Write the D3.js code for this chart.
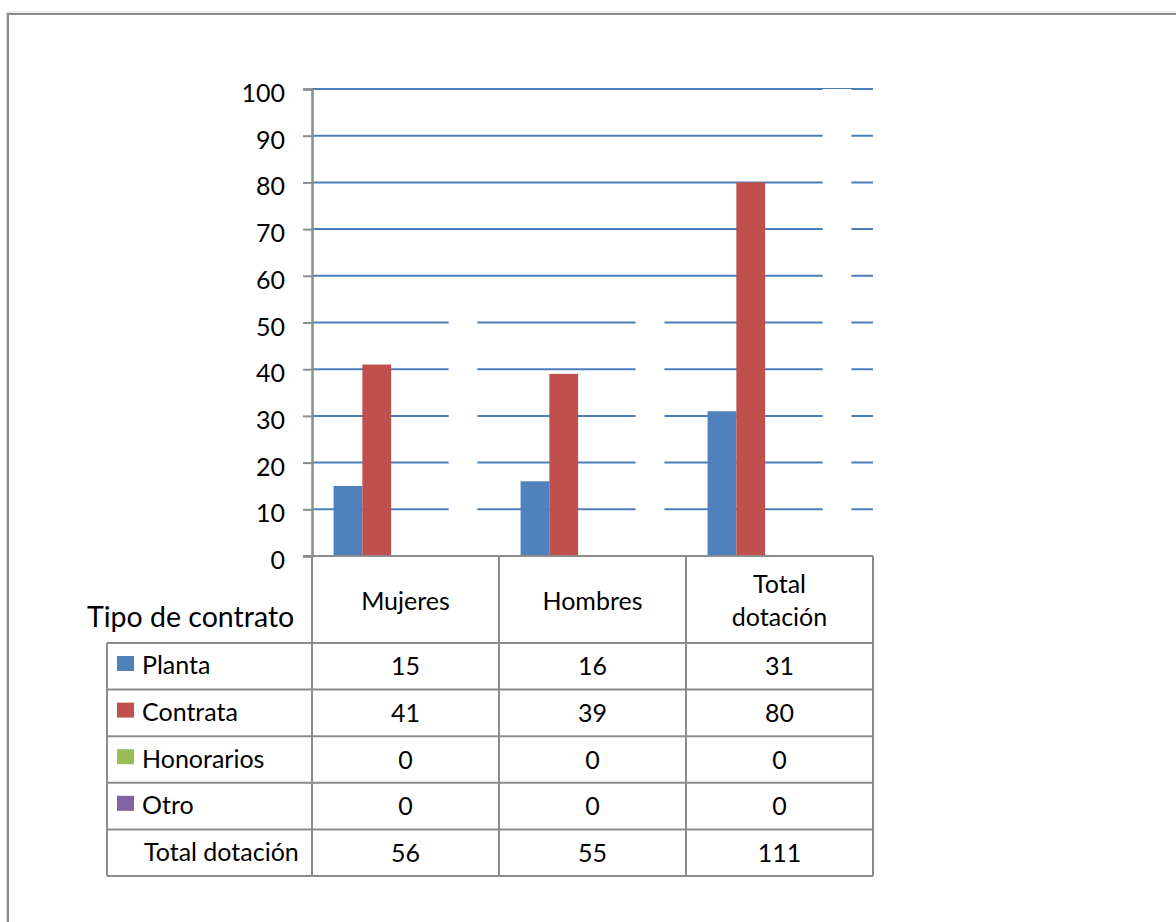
<!DOCTYPE html>
<meta charset="utf-8">
<style>
body { margin: 0; background: #fff; }
text { font-family: Lato, "Open Sans", sans-serif; fill: #000; }
</style>
<svg width="1176" height="922"></svg>
<script src="https://d3js.org/d3.v7.min.js"></script>
<script>
// chart values
var categories = ["Mujeres", "Hombres", "Total dotación"];
var headerLines = [["Mujeres"], ["Hombres"], ["Total", "dotación"]];
var series = ["Planta", "Contrata", "Honorarios", "Otro"];
var planta = [15, 16, 31];
var contrata = [41, 39, 80];
var honorarios = [0, 0, 0];
var otro = [0, 0, 0];
var totalDotacion = [56, 55, 111];
var yTicks = [0, 10, 20, 30, 40, 50, 60, 70, 80, 90, 100];

var colors = ["#4F81BD", "#C0504D", "#9BBB59", "#8064A2"];
var values = [planta, contrata, honorarios, otro];

var svg = d3.select("svg");
var grey = "#8c8c8c";
var fs = "25px";

// outer frame
svg.append("path")
    .attr("d", "M6.5,922V12H1176")
    .attr("fill", "none")
    .attr("stroke", "#d9d9d9")
    .attr("stroke-width", 1);
svg.append("path")
    .attr("d", "M8,922V14H1176")
    .attr("fill", "none")
    .attr("stroke", grey)
    .attr("stroke-width", 2);

var plotLeft = 312, plotRight = 873, plotTop = 89, plotBottom = 556;

var x0 = d3.scaleBand().domain(categories).range([plotLeft, plotRight]);
// five slots per category: the four types plus the (white) total
var x1 = d3.scaleBand()
    .domain(series.concat(["Total dotación"]))
    .range([0, x0.bandwidth()])
    .paddingInner(0)
    .paddingOuter(0.75);
var y = d3.scaleLinear().domain([0, 100]).range([plotBottom, plotTop]);

// gridlines
svg.append("g").selectAll("line")
    .data(yTicks.filter(function(d) { return d > 0; }))
  .enter().append("line")
    .attr("x1", plotLeft).attr("x2", plotRight)
    .attr("y1", function(d) { return y(d); })
    .attr("y2", function(d) { return y(d); })
    .attr("stroke", "#4a7ebb")
    .attr("stroke-width", 2);

// total series is drawn white, hiding the gridlines behind it
svg.append("g").selectAll("rect")
    .data(totalDotacion)
  .enter().append("rect")
    .attr("x", function(d, i) { return x0(categories[i]) + x1("Total dotación"); })
    .attr("width", x1.bandwidth())
    .attr("y", function(d) { return y(Math.min(d, 100)); })
    .attr("height", function(d) { return plotBottom - y(Math.min(d, 100)); })
    .attr("fill", "#fff");

// bars
series.forEach(function(s, si) {
  svg.append("g").selectAll("rect")
      .data(values[si])
    .enter().append("rect")
      .attr("x", function(d, i) { return x0(categories[i]) + x1(s); })
      .attr("width", x1.bandwidth())
      .attr("y", function(d) { return y(d); })
      .attr("height", function(d) { return plotBottom - y(d); })
      .attr("fill", colors[si]);
});

// y axis
var yAxis = svg.append("g")
    .attr("transform", "translate(" + plotLeft + ",0)")
    .call(d3.axisLeft(y).tickValues(yTicks).tickSize(9).tickPadding(18));
yAxis.select(".domain").attr("stroke", grey).attr("stroke-width", 2.5);
yAxis.selectAll(".tick line").attr("stroke", grey).attr("stroke-width", 2);
yAxis.selectAll(".tick text")
    .attr("dy", "0.5em")
    .style("font-size", fs)
    .style("font-family", "Lato, sans-serif")
    .attr("fill", "#000");

// data table
var rows = series.concat(["Total dotación"]);
var rowVals = values.concat([totalDotacion]);
var tableTop = 643, tableBottom = 876, tableLeft = 107;
var ry = d3.scaleBand().domain(rows).range([tableTop, tableBottom]);
var table = svg.append("g");

function line(xa, ya, xb, yb) {
  table.append("line")
      .attr("x1", xa).attr("y1", ya).attr("x2", xb).attr("y2", yb)
      .attr("stroke", grey).attr("stroke-width", 2);
}

// baseline under bars
line(plotLeft - 9, plotBottom, plotRight, plotBottom);
// column lines
[plotLeft].concat(categories.map(function(c) { return x0(c) + x0.bandwidth(); }))
  .forEach(function(x) { line(x, plotBottom, x, tableBottom); });
line(tableLeft, tableTop, tableLeft, tableBottom);
rows.forEach(function(r) { line(tableLeft, ry(r), plotRight, ry(r)); });
line(tableLeft, tableBottom, plotRight, tableBottom);

// header
headerLines.forEach(function(lines, i) {
  var cx = x0(categories[i]) + x0.bandwidth() / 2;
  var base = lines.length === 1 ? [610] : [593, 626];
  lines.forEach(function(t, j) {
    table.append("text")
        .attr("x", cx).attr("y", base[j])
        .attr("text-anchor", "middle")
        .style("font-size", fs)
        .text(t);
  });
});

table.append("text")
    .attr("x", 87).attr("y", 627)
    .style("font-size", "28.5px")
    .text("Tipo de contrato");

// legend cells
rows.forEach(function(r, ri) {
  var rowTop = ry(r);
  if (ri < series.length) {
    table.append("rect")
        .attr("x", 117).attr("y", rowTop + 13)
        .attr("width", 17).attr("height", 15)
        .attr("fill", colors[ri]);
  }
  table.append("text")
      .attr("x", ri < series.length ? 142 : 144)
      .attr("y", rowTop + ry.bandwidth() / 2 + 8)
      .style("font-size", fs)
      .text(r);
  rowVals[ri].forEach(function(v, ci) {
    table.append("text")
        .attr("x", x0(categories[ci]) + x0.bandwidth() / 2)
        .attr("y", rowTop + ry.bandwidth() / 2 + 9)
        .attr("text-anchor", "middle")
        .style("font-size", fs)
        .text(v);
  });
});
</script>
